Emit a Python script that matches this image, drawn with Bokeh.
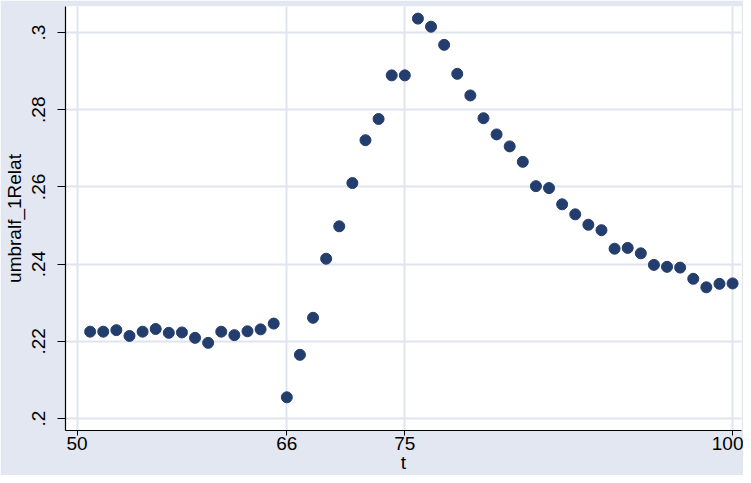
from bokeh.plotting import figure
from bokeh.models import FixedTicker, Range1d
from bokeh.embed import file_html
from bokeh.resources import INLINE

t = list(range(51, 101))
umbralf_1Relat = [
    0.2225, 0.2225, 0.2229, 0.2214, 0.2225, 0.2232, 0.2222, 0.2223, 0.2209, 0.2196,
    0.2225, 0.2216, 0.2226, 0.2231, 0.2246, 0.2055, 0.2165, 0.2261, 0.2414, 0.2498,
    0.2610, 0.2721, 0.2776, 0.2889, 0.2889, 0.3036, 0.3015, 0.2968, 0.2893, 0.2837,
    0.2778, 0.2736, 0.2705, 0.2665, 0.2602, 0.2597, 0.2555, 0.2529, 0.2502, 0.2488,
    0.2440, 0.2442, 0.2428, 0.2398, 0.2393, 0.2391, 0.2362, 0.2340, 0.2349, 0.2350,
]
x_ticks = [50, 66, 75, 100]
y_ticks = [0.20, 0.22, 0.24, 0.26, 0.28, 0.30]
y_tick_labels = [".2", ".22", ".24", ".26", ".28", ".3"]

BG = "#E3E7F1"
GRID = "#DFE4EF"
MARK = "#233D6D"
FONT = "Liberation Sans"

p = figure(width=743, height=475, output_backend="svg", toolbar_location=None,
           x_range=Range1d(49.12, 100.68), y_range=Range1d(0.1969, 0.30674),
           min_border_left=63, min_border_right=2, min_border_top=6, min_border_bottom=42)
p.background_fill_color = "white"
p.border_fill_color = BG
p.outline_line_color = None

p.scatter(t, umbralf_1Relat, size=11, color=MARK, line_color=MARK)

p.xaxis.ticker = FixedTicker(ticks=x_ticks)
p.yaxis.ticker = FixedTicker(ticks=y_ticks)
p.yaxis.major_label_overrides = {v: s for v, s in zip(y_ticks, y_tick_labels)}
p.xaxis.minor_tick_line_color = None
p.yaxis.minor_tick_line_color = None

for ax in (p.xaxis, p.yaxis):
    ax.axis_line_color = "black"
    ax.axis_line_width = 1.2
    ax.major_tick_line_color = "black"
    ax.major_tick_in = 0
    ax.major_label_text_font = FONT
    ax.major_label_text_font_size = "19px"
    ax.major_label_text_color = "black"
    ax.axis_label_text_font = FONT
    ax.axis_label_text_font_size = "19px"
    ax.axis_label_text_font_style = "normal"
    ax.axis_label_text_color = "black"

p.xaxis.axis_label = "t"
p.yaxis.axis_label = "umbralf_1Relat"
p.xaxis.major_tick_out = 5
p.yaxis.major_tick_out = 8
p.xaxis.major_label_standoff = 1
p.xaxis.axis_label_standoff = -1
p.yaxis.major_label_standoff = 12
p.yaxis.axis_label_standoff = 5
p.yaxis.major_label_orientation = "vertical"

p.xgrid.ticker = FixedTicker(ticks=x_ticks)
p.ygrid.ticker = FixedTicker(ticks=y_ticks)
p.grid.grid_line_color = GRID
p.grid.grid_line_width = 2

open("out.html", "w").write(file_html(p, INLINE))
